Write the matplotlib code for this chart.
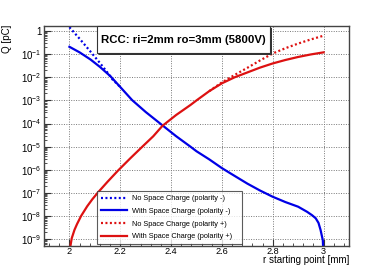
import numpy as np
import matplotlib
matplotlib.use("Agg")
import matplotlib.pyplot as plt
from matplotlib.ticker import FixedLocator, LogLocator, NullFormatter, MultipleLocator

plt.rcParams['font.family'] = ['Liberation Sans', 'DejaVu Sans']
plt.rcParams['mathtext.fontset'] = 'custom'
plt.rcParams['mathtext.rm'] = 'Liberation Sans'
plt.rcParams['mathtext.it'] = 'Liberation Sans:italic'

# polarity - , with space charge (log10 Q)
r_neg = [2.0, 2.04, 2.083, 2.12, 2.161, 2.2, 2.247, 2.3, 2.365, 2.42, 2.476, 2.5, 2.55,
         2.6, 2.634, 2.7, 2.75, 2.8, 2.85, 2.9, 2.935, 2.955, 2.969, 2.98, 2.988, 2.997, 3.0]
logq_neg = [-0.68, -0.92, -1.23, -1.55, -1.95, -2.42, -2.99, -3.5, -4.07, -4.55, -5.0, -5.2, -5.55,
            -5.93, -6.16, -6.6, -6.9, -7.17, -7.4, -7.6, -7.82, -7.97, -8.1, -8.3, -8.6, -9.05, -9.8]
# polarity - , no space charge
r_neg_nsc = [2.0, 2.04, 2.08, 2.12, 2.15, 2.17, 2.2]
logq_neg_nsc = [0.17, -0.33, -0.85, -1.38, -1.8, -2.1, -2.42]

# polarity + , with space charge
r_pos = [2.0, 2.004, 2.009, 2.02, 2.03, 2.046, 2.07, 2.09, 2.111, 2.15, 2.19, 2.24, 2.289,
         2.33, 2.366, 2.42, 2.476, 2.5, 2.55, 2.6, 2.65, 2.7, 2.75, 2.8, 2.85, 2.9, 2.95, 3.0]
logq_pos = [-9.8, -9.3, -8.97, -8.6, -8.35, -8.0, -7.58, -7.28, -7.0, -6.52, -6.05, -5.5, -4.98,
            -4.55, -4.1, -3.63, -3.2, -3.0, -2.6, -2.26, -2.0, -1.79, -1.58, -1.40, -1.25, -1.12,
            -1.01, -0.92]
# polarity + , no space charge
r_pos_nsc = [2.55, 2.6, 2.65, 2.7, 2.75, 2.8, 2.85, 2.9, 2.95, 3.0]
logq_pos_nsc = [-2.6, -2.22, -1.9, -1.59, -1.27, -0.97, -0.74, -0.54, -0.36, -0.2]

labels = ["No Space Charge (polarity -)", "With Space Charge (polarity -)",
          "No Space Charge (polarity +)", "With Space Charge (polarity +)"]
title = "RCC: ri=2mm ro=3mm (5800V)"

fig = plt.figure(figsize=(3.81, 2.75), dpi=100)
ax = fig.add_axes([44/381, 1-246/275, 305/381, 220/275])

blue = '#0000e6'
red = '#dd1111'
dots = (0, (0.9, 1.1))
l1, = ax.plot(r_neg_nsc, 10**np.array(logq_neg_nsc), color=blue, lw=1.6, ls=dots)
l2, = ax.plot(r_neg, 10**np.array(logq_neg), color=blue, lw=1.6)
l3, = ax.plot(r_pos_nsc, 10**np.array(logq_pos_nsc), color=red, lw=1.6, ls=dots)
l4, = ax.plot(r_pos, 10**np.array(logq_pos), color=red, lw=1.6)

ax.set_yscale('log')
ax.set_xlim(1.9, 3.1)
ax.set_ylim(10**-9.3, 10**0.22)

ax.xaxis.set_major_locator(FixedLocator([2.0, 2.2, 2.4, 2.6, 2.8, 3.0]))
ax.xaxis.set_minor_locator(MultipleLocator(0.04))
ax.set_xticklabels(['2', '2.2', '2.4', '2.6', '2.8', '3'])
yt = [10.0**k for k in range(-9, 1)]
ax.yaxis.set_major_locator(FixedLocator(yt))
ax.set_yticklabels(['$10^{%d}$' % k if k != 0 else '1' for k in range(-9, 1)])
ax.yaxis.set_minor_locator(LogLocator(base=10, subs=np.arange(2, 10), numticks=20))
ax.yaxis.set_minor_formatter(NullFormatter())

ax.tick_params(which='both', direction='in', labelsize=7, color='#333333')
ax.tick_params(which='major', length=5, width=0.8)
ax.tick_params(which='minor', length=2.5, width=0.6)
ax.tick_params(axis='x', pad=0.5, labelsize=6.6)
ax.tick_params(axis='y', pad=2)
ax.grid(True, which='major', ls=(0, (1, 1.5)), color='#777777', lw=0.7)
for s in ax.spines.values():
    s.set_color('#444444')
    s.set_linewidth(1.0)

ax.set_xlabel('r starting point [mm]', fontsize=7, loc='right', labelpad=-0.5)
ax.set_ylabel('Q [pC]', fontsize=7, loc='top')
ax.yaxis.set_label_coords(-0.105, 1.005)

leg = ax.legend([l1, l2, l3, l4], labels, loc='lower left',
                bbox_to_anchor=(97/381, 1-244/275, 145/381, 55/275),
                bbox_transform=fig.transFigure, mode='expand',
                fontsize=5.3, frameon=True, fancybox=False, handlelength=3.6,
                borderpad=0.5, labelspacing=0.75, handletextpad=0.7, borderaxespad=0)
leg.get_frame().set_edgecolor('#333333')
leg.get_frame().set_linewidth(0.8)

# title box with shadow
fig.patches.append(plt.Rectangle((99/381, 1-55/275), 173/381, 27/275, transform=fig.transFigure,
                                 facecolor='#333333', edgecolor='none', zorder=5))
fig.patches.append(plt.Rectangle((97/381, 1-53/275), 173/381, 27/275, transform=fig.transFigure,
                                 facecolor='white', edgecolor='#333333', lw=0.8, zorder=6))
fig.text(183.5/381, 1-40/275, title, ha='center', va='center', fontsize=8.2,
         fontweight='bold', zorder=7)

fig.savefig('out.png', dpi=100)
